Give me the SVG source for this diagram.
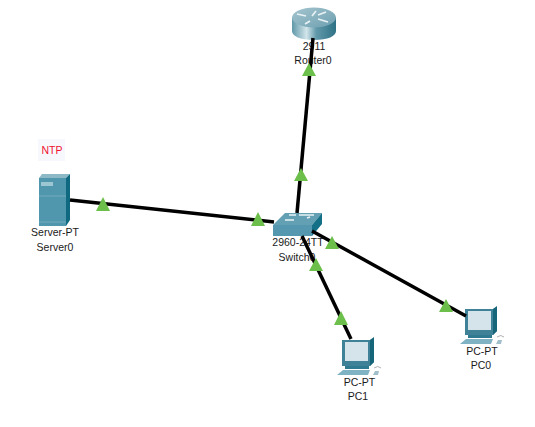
<svg xmlns="http://www.w3.org/2000/svg" width="535" height="427" viewBox="0 0 535 427">
<style>
text{font-family:"Liberation Sans",Arial,sans-serif;font-size:10.5px;fill:#1a1a1a;text-anchor:middle}
.l{stroke:#000;stroke-width:3.5;fill:none;stroke-linecap:butt}
.t{fill:#6cbf4a}
.w{fill:none;stroke:#e8f2f5;stroke-width:1.7}
</style>
<defs>
<linearGradient id="rt" x1="0" x2="1" y1="0" y2="0"><stop offset="0" stop-color="#5f98a9"/><stop offset=".33" stop-color="#d2e5ea"/><stop offset=".55" stop-color="#6199aa"/><stop offset="1" stop-color="#2f7286"/></linearGradient>
<linearGradient id="rtop" x1="0" x2="1" y1="0" y2="1"><stop offset="0" stop-color="#a5c5cf"/><stop offset="1" stop-color="#6d9fb0"/></linearGradient>
<g id="pc">
<path d="M0 1h28l4-2v24l-4 4H0z" fill="#3f8298"/>
<path d="M28 1l4-3v25l-4 4z" fill="#166579"/>
<rect x="3" y="3" width="23" height="19" fill="#d4e4ea"/>
<path d="M3 27h24v3H3z" fill="#2f7a90"/>
<path d="M-5 36l6-5h27l-2 5z" fill="#7fb2c2"/>
<path d="M31 36l2-4h4l-1 4z" fill="#a0bfca"/>
<path d="M32 29q4-3 7 0" fill="none" stroke="#9a9a9a" stroke-width=".8"/>
</g>
</defs>
<rect width="535" height="427" fill="#fff"/>
<g id="Router0">
<path d="M292 17v14c0 5 8 9 22 9s22-4 22-9v-14z" fill="url(#rt)"/>
<ellipse cx="314" cy="17.500" rx="22" ry="10" fill="url(#rtop)"/>
<path class="w" d="M297 14l9 2M316 11l-4 5M318 15l8-3M318 19l10 3M310 21l-5 3"/>
<text x="314" y="50">2911</text>
<text x="313" y="64">Router0</text>
</g>
<g id="Server0">
<path d="M39 178l3-4h28l-4 4z" fill="#8db8c6"/>
<rect x="39" y="178" width="27" height="48" fill="#5096ac"/>
<path d="M66 178l4-4v46l-4 6z" fill="#0f6980"/>
<rect x="41" y="182" width="12" height="4" fill="#9cc6d1"/>
<path d="M39 196h27M39 222h27" stroke="#74adbe" stroke-width="1"/>
<text x="55" y="236">Server-PT</text>
<text x="55" y="251">Server0</text>
<rect x="38" y="139" width="27" height="22" fill="#f7f8fd"/>
<text x="52" y="154" style="fill:#f01030">NTP</text>
</g>
<g id="Switch0">
<path d="M273 225l12-12h37l-10 12z" fill="#64a0b4"/>
<path d="M273 225h39v11h-39z" fill="#5597ae"/>
<path d="M312 225l10-12v11l-10 12z" fill="#137087"/>
<path class="w" d="M289 215h7M299 215h15M285 220h9M307 218l3-1"/>
<text x="298" y="246">2960-24TT</text>
<text x="297" y="261">Switch0</text>
</g>
<g id="PC1"><use href="#pc" x="342" y="339"/><text x="359.500" y="386">PC-PT</text><text x="358" y="400">PC1</text></g>
<g id="PC0"><use href="#pc" x="465" y="308"/><text x="482" y="355">PC-PT</text><text x="481" y="369">PC0</text></g>
<g id="connectors">
<line class="l" x1="313" y1="38" x2="297" y2="213"/>
<line class="l" x1="70" y1="200" x2="274" y2="222"/>
<line class="l" x1="312" y1="231" x2="466" y2="316"/>
<line class="l" x1="302" y1="236" x2="351" y2="339"/>
</g>
<g id="triangles">
<polygon class="t" points="309,63 316,76 302,76"/>
<polygon class="t" points="301,168 308,181 294,181"/>
<polygon class="t" points="103,197 110,211 96,211"/>
<polygon class="t" points="258,212 265,226 251,226"/>
<polygon class="t" points="332,236 339,249 325,249"/>
<polygon class="t" points="316,258 323,271 309,271"/>
<polygon class="t" points="341,311 348,325 334,325"/>
<polygon class="t" points="446,299 453,312 439,312"/>
</g>
</svg>
